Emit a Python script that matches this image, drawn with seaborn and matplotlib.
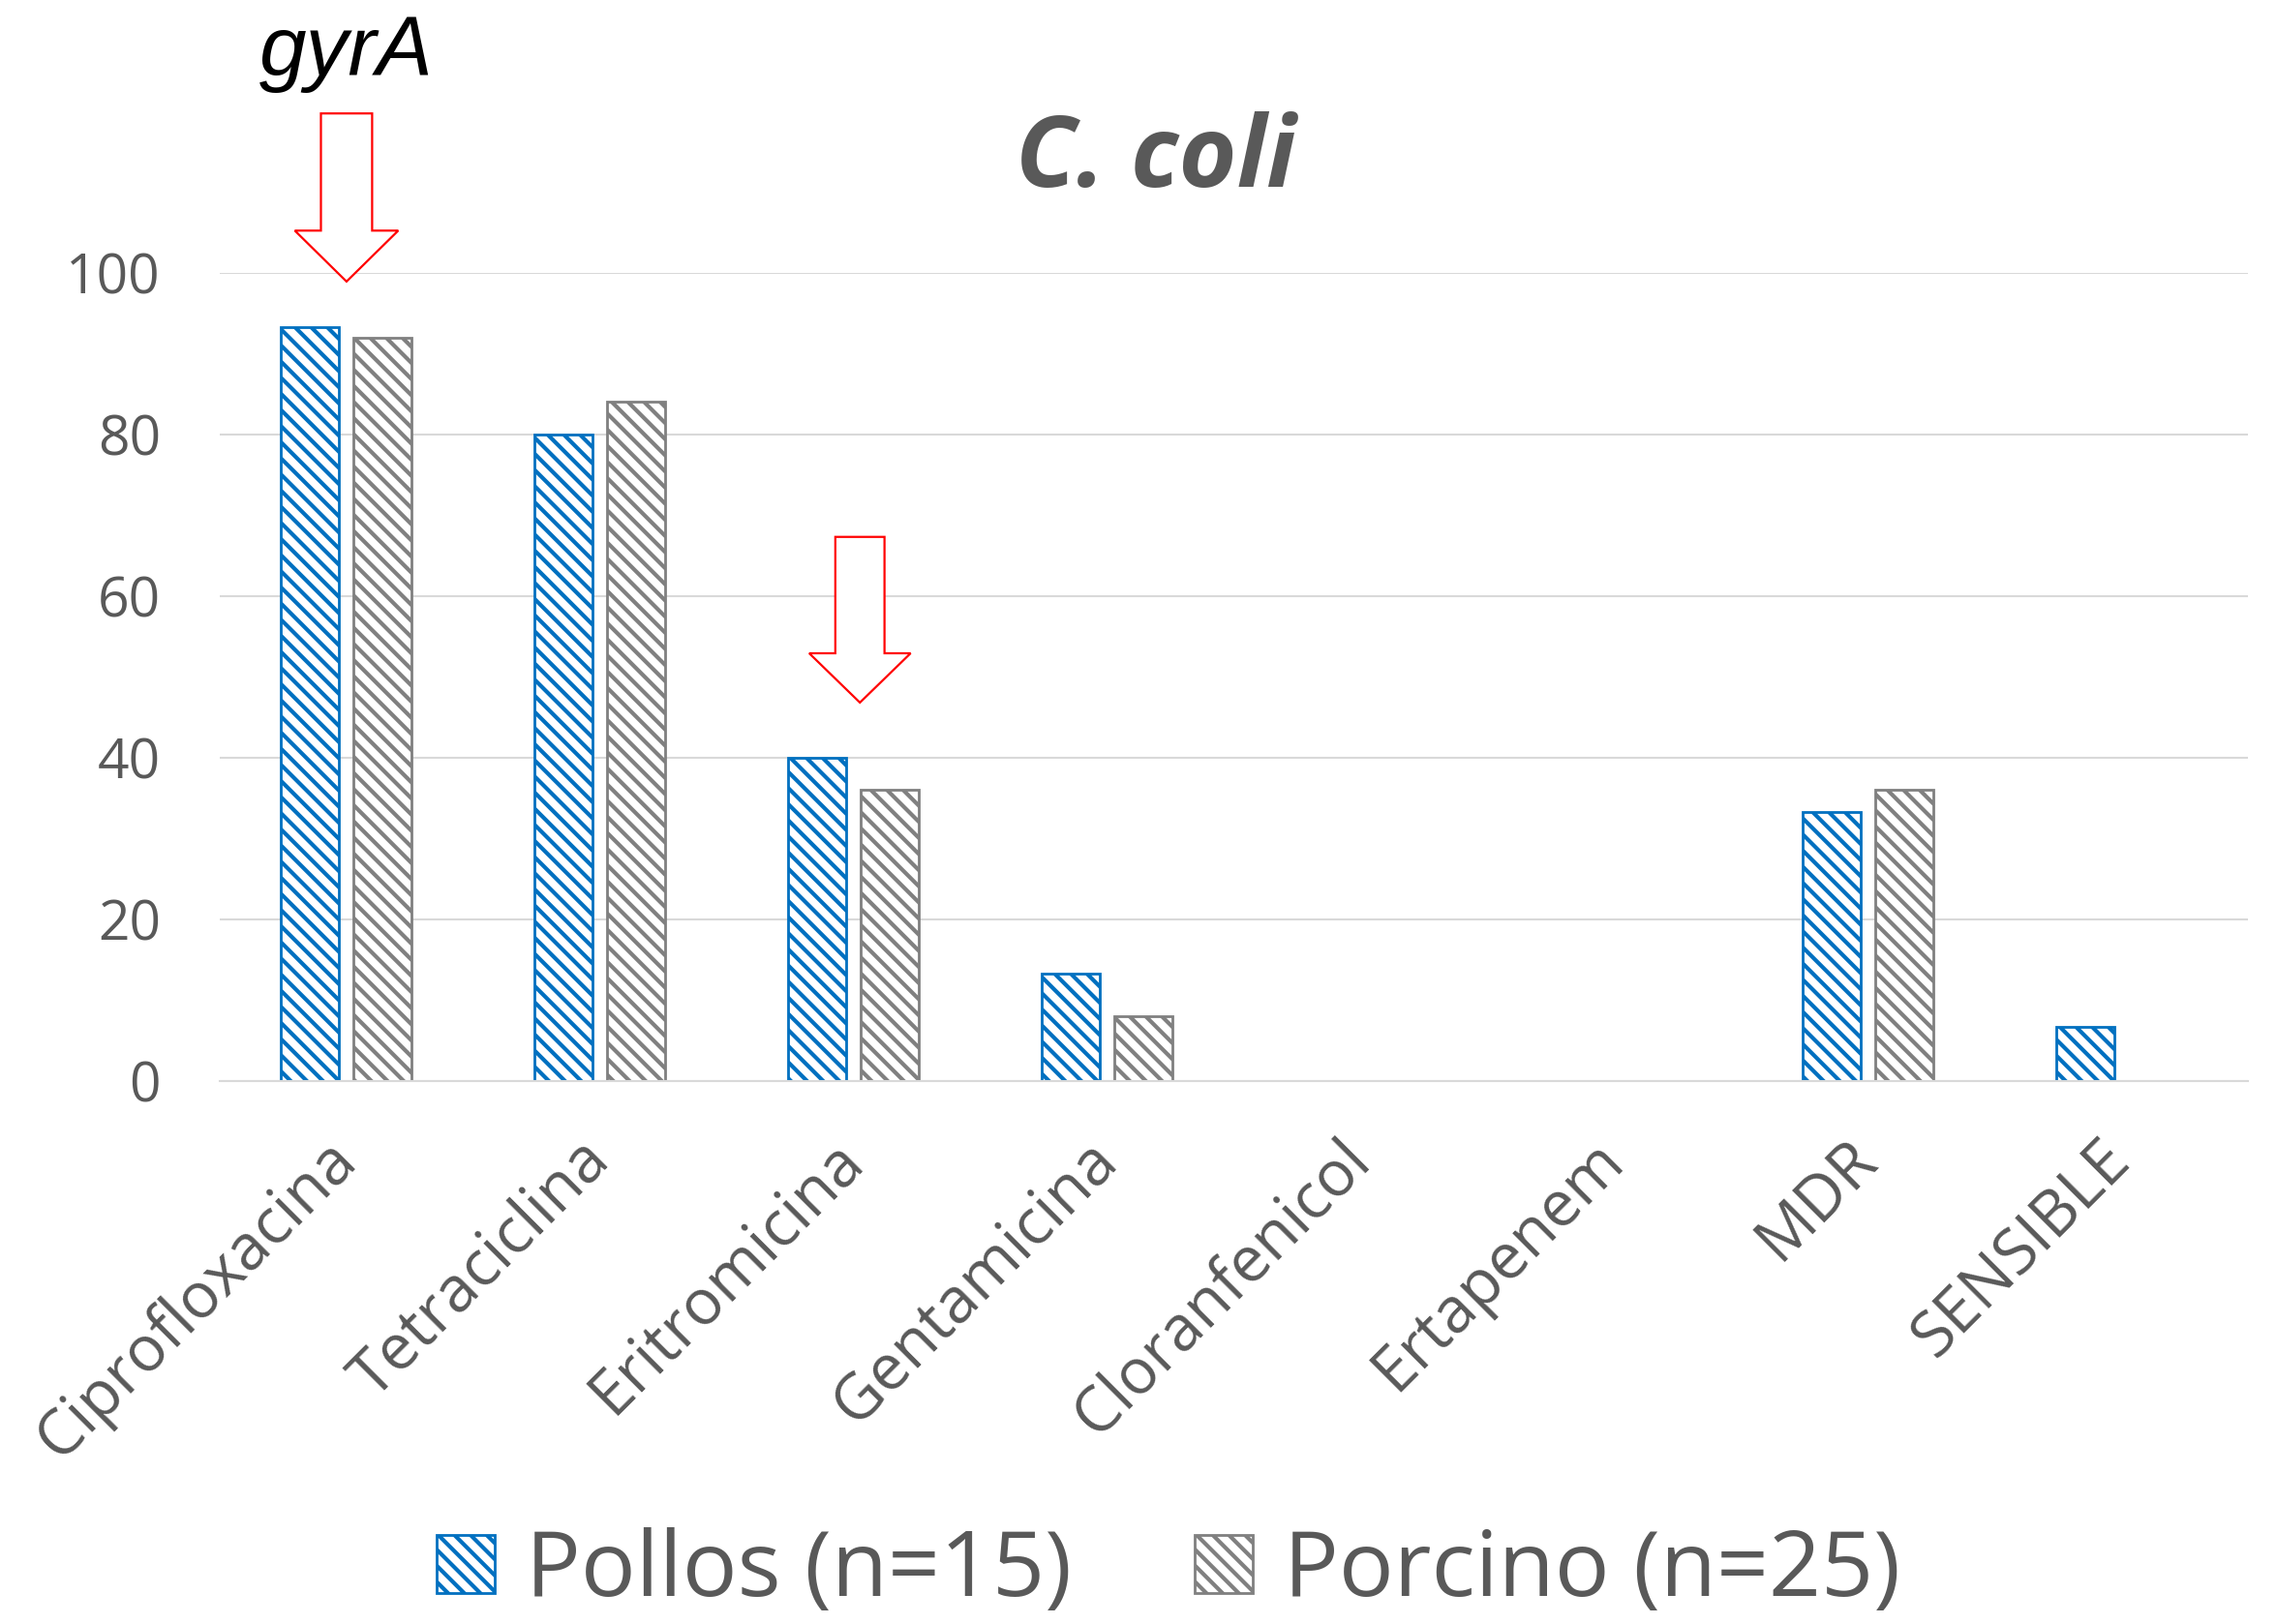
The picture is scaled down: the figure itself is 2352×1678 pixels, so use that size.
import matplotlib
matplotlib.use("Agg")
import matplotlib.pyplot as plt
import seaborn as sns
import pandas as pd
from matplotlib.patches import Polygon, Patch

# ---- data ----
categorias = ['Ciprofloxacina', 'Tetraciclina', 'Eritromicina', 'Gentamicina',
              'Cloranfenicol', 'Ertapenem', 'MDR', 'SENSIBLE']
pollos = [93.3, 80.0, 40.0, 13.3, 0.0, 0.0, 33.3, 6.7]
porcino = [92.0, 84.0, 36.0, 8.0, 0.0, 0.0, 36.0, 0.0]
series = ['Pollos (n=15)', 'Porcino (n=25)']
yticks = [0, 20, 40, 60, 80, 100]

colores = ['#0070C0', '#808080']
texto = '#595959'

sns.set_theme(style='white')
plt.rcParams['font.family'] = ['Open Sans', 'DejaVu Sans']
plt.rcParams['hatch.linewidth'] = 3.0

df = pd.DataFrame({
    'cat': categorias * 2,
    'val': pollos + porcino,
    'serie': [series[0]] * len(categorias) + [series[1]] * len(categorias),
})

fig = plt.figure(figsize=(23.52, 16.78), dpi=100)
ax = fig.add_axes([227 / 2352, 1 - 1116.7 / 1678, (2322 - 227) / 2352, (1116.7 - 281.7) / 1678])

sns.barplot(data=df, x='cat', y='val', hue='serie', palette=colores, ax=ax,
            width=0.573, gap=0.2, fill=False, linewidth=2.0, legend=False,
            errorbar=None)

for p in ax.patches:
    if p.get_height() == 0:
        p.set_visible(False)
    else:
        p.set_hatch('\\\\')
        p.set_facecolor('white')

ax.set_ylim(0, 100)
ax.set_xlim(-0.5, len(categorias) - 0.5)
ax.set_yticks(yticks)
ax.yaxis.grid(True, color='#D9D9D9', linewidth=1.5)
ax.set_axisbelow(True)
for s in ['top', 'right', 'left']:
    ax.spines[s].set_visible(False)
ax.spines['bottom'].set_color('#D9D9D9')
ax.spines['bottom'].set_linewidth(1.5)
ax.set_xlabel('')
ax.set_ylabel('')
ax.tick_params(axis='y', length=0, pad=44, labelsize=41, labelcolor=texto)
ax.tick_params(axis='x', length=0, pad=52, labelsize=47, labelcolor=texto)
for lbl in ax.get_xticklabels():
    lbl.set_rotation(45)
    lbl.set_ha('right')
    lbl.set_va('center')
    lbl.set_rotation_mode('anchor')


def flecha(xc, y_tip, y_head, y_top, hw_shaft, hw_head):
    pts = [(xc - hw_shaft, y_top), (xc + hw_shaft, y_top), (xc + hw_shaft, y_head),
           (xc + hw_head, y_head), (xc, y_tip), (xc - hw_head, y_head),
           (xc - hw_shaft, y_head)]
    ax.add_patch(Polygon(pts, closed=True, facecolor='white', edgecolor='#FF0000',
                         linewidth=1.6, clip_on=False, zorder=5))


flecha(0.0, 98.9, 105.2, 119.7, 0.101, 0.204)
flecha(2.025, 46.8, 52.9, 67.3, 0.097, 0.200)

ax.text(0.0, 124.4, 'gyrA', ha='center', va='baseline', fontsize=63,
        style='italic', family=['Liberation Sans', 'DejaVu Sans'], color='black',
        clip_on=False)

fig.text(1194 / 2352, 1 - 193 / 1678, 'C. coli', ha='center', va='baseline',
         fontsize=74, fontweight='bold', style='italic', color=texto)

handles = [Patch(facecolor='white', edgecolor=c, hatch='\\\\', linewidth=2.0) for c in colores]
leg = fig.legend(handles, series, loc='center', bbox_to_anchor=(1207 / 2352, 1 - 1625 / 1678),
                 ncol=2, frameon=False, fontsize=68, handlelength=0.635, handleheight=0.60,
                 handletextpad=0.34, columnspacing=1.35, borderaxespad=0)
for t in leg.get_texts():
    t.set_color(texto)

fig.savefig('out.png', dpi=100, facecolor='white')
